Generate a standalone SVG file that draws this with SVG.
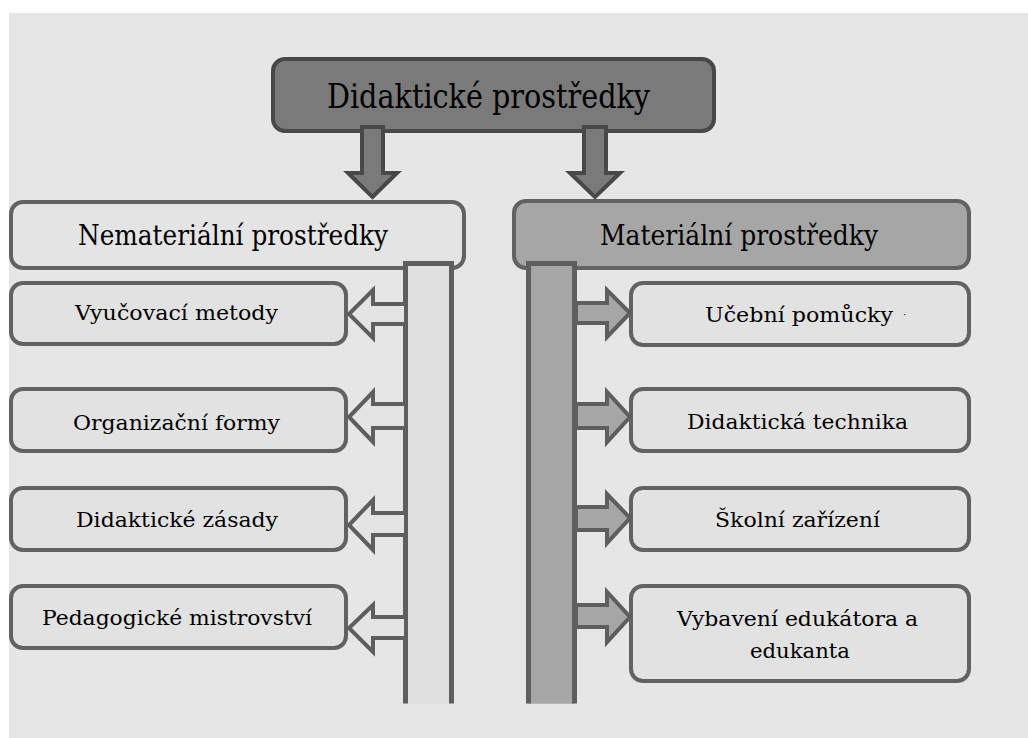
<svg xmlns="http://www.w3.org/2000/svg" width="1028" height="738" viewBox="0 0 1028 738">
<style>
  .t { font-family: "DejaVu Serif", "Liberation Serif", serif; fill: #000; }
  .top { fill: #7a7a7a; stroke: #484848; stroke-width: 4; }
  .hl { fill: #e4e4e4; stroke: #626262; stroke-width: 4; }
  .hr { fill: #a6a6a6; stroke: #626262; stroke-width: 4; }
  .item { fill: #e2e2e2; stroke: #626262; stroke-width: 4; }
  .barl { fill: #e0e0e0; stroke: #5e5e5e; stroke-width: 5; }
  .barr { fill: #a6a6a6; stroke: #5e5e5e; stroke-width: 5; }
  .al { fill: #e4e4e4; stroke: #5e5e5e; stroke-width: 4; stroke-linejoin: miter; }
  .ar { fill: #a6a6a6; stroke: #5e5e5e; stroke-width: 4; stroke-linejoin: miter; }
  .ad { fill: #7a7a7a; stroke: #484848; stroke-width: 4; stroke-linejoin: miter; }
  .h1 { font-size: 33px; }
  .h2 { font-size: 27px; }
  .it { font-size: 20px; }
</style>
<rect x="0" y="0" width="1028" height="738" fill="#ffffff"/>
<rect x="9" y="13" width="1019" height="725" fill="#e6e6e6"/>

<g id="node-root">
  <rect class="top" x="273" y="59" width="441" height="72" rx="12"/>
  <text class="t h1" x="327" y="108" textLength="323" lengthAdjust="spacingAndGlyphs">Didaktické prostředky</text>
</g>

<g id="node-nematerialni">
  <rect class="hl" x="11" y="202" width="453" height="66" rx="12"/>
  <text class="t h2" x="78" y="245" textLength="310" lengthAdjust="spacingAndGlyphs">Nemateriální prostředky</text>
</g>

<g id="node-materialni">
  <rect class="hr" x="514" y="201" width="455" height="67" rx="12"/>
  <text class="t h2" x="600" y="245" textLength="278" lengthAdjust="spacingAndGlyphs">Materiální prostředky</text>
</g>

<g id="node-vyucovaci-metody">
  <rect class="item" x="11" y="283" width="335" height="61" rx="12"/>
  <text class="t it" x="75" y="320" textLength="203" lengthAdjust="spacingAndGlyphs">Vyučovací metody</text>
</g>
<g id="node-organizacni-formy">
  <rect class="item" x="11" y="389" width="335" height="62" rx="12"/>
  <text class="t it" x="73" y="430" textLength="207" lengthAdjust="spacingAndGlyphs">Organizační formy</text>
</g>
<g id="node-didakticke-zasady">
  <rect class="item" x="11" y="488" width="335" height="62" rx="12"/>
  <text class="t it" x="76" y="527" textLength="202" lengthAdjust="spacingAndGlyphs">Didaktické zásady</text>
</g>
<g id="node-pedagogicke-mistrovstvi">
  <rect class="item" x="11" y="586" width="335" height="62" rx="12"/>
  <text class="t it" x="42" y="625" textLength="270" lengthAdjust="spacingAndGlyphs">Pedagogické mistrovství</text>
</g>

<g id="node-ucebni-pomucky">
  <rect class="item" x="631" y="283" width="338" height="62" rx="12"/>
  <text class="t it" x="705" y="322" textLength="188" lengthAdjust="spacingAndGlyphs">Učební pomůcky</text>
  <text class="t" x="903" y="318" font-size="10" fill="#888">·</text>
</g>
<g id="node-didakticka-technika">
  <rect class="item" x="631" y="389" width="338" height="62" rx="12"/>
  <text class="t it" x="687" y="429" textLength="221" lengthAdjust="spacingAndGlyphs">Didaktická technika</text>
</g>
<g id="node-skolni-zarizeni">
  <rect class="item" x="631" y="488" width="338" height="62" rx="12"/>
  <text class="t it" x="715" y="527" textLength="165" lengthAdjust="spacingAndGlyphs">Školní zařízení</text>
</g>
<g id="node-vybaveni">
  <rect class="item" x="631" y="586" width="338" height="95" rx="12"/>
  <text class="t it" x="677" y="626" textLength="241" lengthAdjust="spacingAndGlyphs">Vybavení edukátora a</text>
  <text class="t it" x="750" y="658" textLength="100" lengthAdjust="spacingAndGlyphs">edukanta</text>
</g>

<g id="connectors">
  <polygon class="ad" points="362,127 383,127 383,173 397,173 372.5,197 348,173 362,173"/>
  <polygon class="ad" points="584,127 606,127 606,173 620,173 595,197 570,173 584,173"/>
  <rect x="405.5" y="263.5" width="46" height="440" fill="#e0e0e0"/>
  <path class="barl" fill="none" d="M405.5,703.5 V263.5 H451.5 V703.5"/>
  <rect x="528.5" y="263.5" width="46" height="440" fill="#a6a6a6"/>
  <path class="barr" fill="none" d="M528.5,703.5 V263.5 H574.5 V703.5"/>
  <polygon class="al" points="406,304 373,304 373,290 349,314 373,338 373,324 406,324"/>
  <polygon class="al" points="406,404 373,404 373,392 349,417 373,442 373,428 406,428"/>
  <polygon class="al" points="406,513 373,513 373,500 349,525 373,550 373,535 406,535"/>
  <polygon class="al" points="406,617 373,617 373,605 349,628 373,652 373,638 406,638"/>
  <polygon class="ar" points="576,303 607,303 607,290 630,313 607,337 607,323 576,323"/>
  <polygon class="ar" points="576,404 607,404 607,392 630,417 607,442 607,428 576,428"/>
  <polygon class="ar" points="576,507 607,507 607,494 630,518 607,543 607,530 576,530"/>
  <polygon class="ar" points="576,605 607,605 607,592 630,617 607,642 607,627 576,627"/>
</g>
</svg>
